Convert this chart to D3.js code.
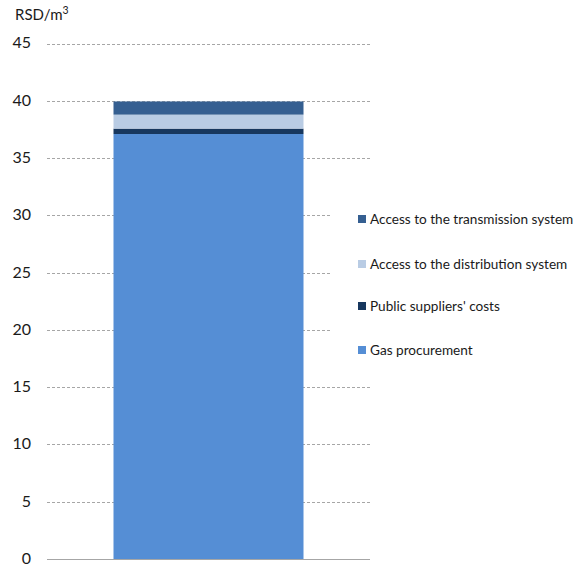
<!DOCTYPE html>
<html>
<head>
<meta charset="utf-8">
<script src="https://cdn.jsdelivr.net/npm/d3@7"></script>
<style>
  body { margin: 0; background: #fff; }
  svg { display: block; font-family: Lato, "Open Sans", sans-serif; }
</style>
</head>
<body>
<svg id="chart" width="575" height="566"></svg>
<script>
// Retail gas price structure, RSD per cubic metre
const seriesNames = [
  "Gas procurement",
  "Public suppliers' costs",
  "Access to the distribution system",
  "Access to the transmission system"
];
const seriesValues = [37.1, 0.47, 1.22, 1.15];
const seriesColors = ["#558ed5", "#17375e", "#b9cce4", "#355f91"];
const yTicks = [0, 5, 10, 15, 20, 25, 30, 35, 40, 45];
const category = ["Price"];

const svg = d3.select("#chart");
const margin = { left: 47, right: 205, top: 43.5, bottom: 7 };
const W = 575, H = 566;

const y = d3.scaleLinear().domain([0, 45]).range([H - margin.bottom, margin.top]);
const x = d3.scaleBand().domain(category).range([margin.left, W - margin.right])
  .paddingInner(0).paddingOuter(0.35);

// gridlines
svg.append("g")
  .selectAll("line")
  .data(yTicks.filter(d => d > 0))
  .join("line")
  .attr("x1", margin.left)
  .attr("x2", W - margin.right)
  .attr("y1", d => Math.round(y(d)) + 0.5)
  .attr("y2", d => Math.round(y(d)) + 0.5)
  .attr("stroke", "#a6a6a6")
  .attr("stroke-width", 1)
  .attr("stroke-dasharray", "3,2");

// stacked bar
let acc = 0;
const stacks = seriesValues.map((v, i) => {
  const s = { name: seriesNames[i], y0: acc, y1: acc + v, color: seriesColors[i] };
  acc += v;
  return s;
});
svg.append("g")
  .selectAll("rect")
  .data(stacks)
  .join("rect")
  .attr("x", x(category[0]))
  .attr("width", x.bandwidth())
  .attr("y", d => y(d.y1))
  .attr("height", d => y(d.y0) - y(d.y1))
  .attr("fill", d => d.color);

// baseline
svg.append("line")
  .attr("x1", margin.left).attr("x2", W - margin.right)
  .attr("y1", Math.round(y(0)) + 0.5).attr("y2", Math.round(y(0)) + 0.5)
  .attr("stroke", "#a6a6a6");

// y axis labels
const yAxis = d3.axisLeft(y).tickValues(yTicks).tickSize(0).tickPadding(0).tickFormat(d3.format("d"));
const ga = svg.append("g").attr("transform", "translate(31,0)").call(yAxis);
ga.select(".domain").remove();
ga.selectAll("text").attr("font-size", 16).attr("fill", "#1a1a1a").attr("dy", "0.28em")
  .attr("font-family", "Lato, 'Open Sans', sans-serif");

// unit label
const unit = svg.append("text").attr("x", 15).attr("y", 20)
  .attr("font-size", 15).attr("fill", "#1a1a1a");
unit.append("tspan").text("RSD/m");
unit.append("tspan").text("3").attr("font-size", 10.5).attr("dy", -6);

// legend with white background
const legend = svg.append("g");
legend.append("rect").attr("x", 332).attr("y", 196).attr("width", 243).attr("height", 166).attr("fill", "#fff");
const legendY = [219, 264, 306, 350];
const legendOrder = [3, 2, 1, 0];
legendOrder.forEach((si, k) => {
  const g = legend.append("g").attr("transform", `translate(358,${legendY[k]})`);
  g.append("rect").attr("x", 0).attr("y", -4).attr("width", 8).attr("height", 8).attr("fill", seriesColors[si]);
  g.append("text").attr("x", 12).attr("y", 0).attr("dy", "0.35em")
    .attr("font-size", 13.6).attr("fill", "#1a1a1a").text(seriesNames[si]);
});
</script>
</body>
</html>
